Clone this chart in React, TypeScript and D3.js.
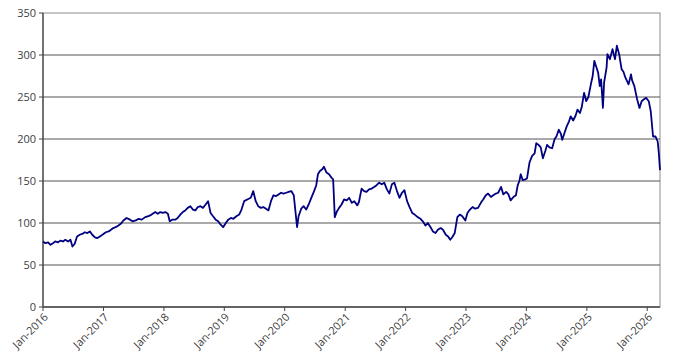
import * as d3 from 'd3'

// price series (date, value)
const dates = [
  '2016-01-01','2016-01-15','2016-02-01','2016-02-15','2016-03-01','2016-03-15','2016-04-01','2016-04-15','2016-05-01','2016-05-15','2016-06-01','2016-06-15','2016-06-27','2016-07-10','2016-07-25','2016-08-10','2016-08-25','2016-09-10','2016-09-25','2016-10-10','2016-10-25','2016-11-10','2016-11-25','2016-12-10','2016-12-25',
  '2017-01-15','2017-02-01','2017-02-15','2017-03-01','2017-03-15','2017-04-01','2017-04-15','2017-05-01','2017-05-20','2017-06-10','2017-06-25','2017-07-15','2017-08-01','2017-08-20','2017-09-10','2017-09-25','2017-10-10','2017-10-25','2017-11-10','2017-11-25','2017-12-10','2017-12-25',
  '2018-01-10','2018-01-25','2018-02-05','2018-02-20','2018-03-10','2018-03-25','2018-04-10','2018-04-25','2018-05-10','2018-05-25','2018-06-10','2018-06-25','2018-07-10','2018-07-25','2018-08-10','2018-08-25','2018-09-10','2018-09-25','2018-10-10','2018-10-25','2018-11-10','2018-11-25','2018-12-10','2018-12-25',
  '2019-01-10','2019-01-25','2019-02-10','2019-02-25','2019-03-15','2019-04-01','2019-04-15','2019-05-01','2019-05-20','2019-06-10','2019-06-25','2019-07-10','2019-07-25','2019-08-10','2019-08-25','2019-09-10','2019-09-25','2019-10-10','2019-10-25','2019-11-10','2019-11-25','2019-12-10','2019-12-25',
  '2020-01-10','2020-01-25','2020-02-10','2020-02-25','2020-03-05','2020-03-16','2020-03-25','2020-04-10','2020-04-25','2020-05-10','2020-05-25','2020-06-10','2020-06-25','2020-07-10','2020-07-20','2020-08-01','2020-08-15','2020-08-25','2020-09-10','2020-09-25','2020-10-10','2020-10-20','2020-10-30','2020-11-10','2020-11-25','2020-12-10','2020-12-25',
  '2021-01-10','2021-01-25','2021-02-10','2021-02-25','2021-03-15','2021-03-25','2021-04-10','2021-04-25','2021-05-10','2021-05-25','2021-06-10','2021-06-25','2021-07-10','2021-07-25','2021-08-10','2021-08-25','2021-09-10','2021-09-25','2021-10-10','2021-10-25','2021-11-10','2021-11-25','2021-12-10','2021-12-25',
  '2022-01-10','2022-01-25','2022-02-10','2022-02-25','2022-03-15','2022-04-01','2022-04-15','2022-05-01','2022-05-15','2022-06-01','2022-06-15','2022-07-01','2022-07-15','2022-08-01','2022-08-15','2022-09-01','2022-09-15','2022-09-28','2022-10-10','2022-10-25','2022-11-10','2022-11-25','2022-12-10','2022-12-28',
  '2023-01-10','2023-01-25','2023-02-10','2023-02-25','2023-03-15','2023-04-01','2023-04-15','2023-05-01','2023-05-15','2023-06-01','2023-06-15','2023-07-01','2023-07-15','2023-08-01','2023-08-15','2023-09-01','2023-09-15','2023-09-28','2023-10-15','2023-10-30','2023-11-10','2023-11-20','2023-11-28','2023-12-10','2023-12-25',
  '2024-01-05','2024-01-20','2024-02-05','2024-02-20','2024-03-01','2024-03-15','2024-03-28','2024-04-10','2024-04-25','2024-05-05','2024-05-20','2024-06-05','2024-06-20','2024-07-01','2024-07-15','2024-07-28','2024-08-05','2024-08-20','2024-09-01','2024-09-15','2024-09-25','2024-10-10','2024-10-25','2024-11-05','2024-11-20','2024-12-01','2024-12-15','2024-12-28',
  '2025-01-10','2025-01-25','2025-02-05','2025-02-15','2025-02-28','2025-03-10','2025-03-20','2025-03-28','2025-04-08','2025-04-15','2025-04-30','2025-05-05','2025-05-20','2025-06-05','2025-06-20','2025-07-01','2025-07-15','2025-07-30','2025-08-10','2025-08-22','2025-09-10','2025-09-25','2025-10-01','2025-10-15','2025-11-01','2025-11-15','2025-11-28','2025-12-10','2025-12-25',
  '2026-01-10','2026-01-22','2026-02-05','2026-02-20','2026-03-05','2026-03-12','2026-03-19',
]

const values = [
  78,76,77,74,76,78,77,79,78,80,78,80,72,75,84,86,87,89,88,90,86,83,82,84,86,
  89,90,92,94,95,97,99,103,106,104,102,103,105,104,107,108,109,111,113,111,113,112,
  113,111,102,104,104,106,110,113,115,118,120,116,115,119,120,118,122,126,112,108,104,102,98,95,
  100,104,106,105,108,110,116,126,128,130,138,126,120,118,119,117,115,126,133,132,134,136,135,
  136,137,138,133,116,95,108,117,120,116,122,130,137,145,158,162,164,167,160,158,154,152,107,113,118,122,128,
  127,130,124,126,121,125,141,138,137,140,141,143,145,148,146,148,140,135,146,148,138,130,136,139,
  126,119,112,110,107,105,102,97,100,95,90,88,92,94,92,86,84,80,83,88,107,110,108,103,
  112,116,119,117,118,124,128,133,135,131,133,135,136,143,134,137,134,127,131,133,145,150,158,151,152,
  153,172,180,183,195,193,190,177,186,193,190,189,200,203,211,206,199,208,215,221,227,222,228,235,231,238,255,245,
  250,265,275,293,285,279,263,271,237,267,285,301,295,307,295,311,301,283,280,273,265,277,270,263,247,237,245,247,249,
  245,233,203,203,197,183,163,
]

const yTicks = [0, 50, 100, 150, 200, 250, 300, 350]
const xTickLabels = ['Jan-2016','Jan-2017','Jan-2018','Jan-2019','Jan-2020','Jan-2021','Jan-2022','Jan-2023','Jan-2024','Jan-2025','Jan-2026']

const W = 673
const H = 359
const margin = { top: 13, right: 13, bottom: 52, left: 43 }

const parse = d3.timeParse('%Y-%m-%d')
const monthIdx: Record<string, number> = { Jan: 0 }

export default function App() {
  const data = dates.map((d, i) => ({ date: parse(d) as Date, value: values[i] }))

  const x = d3
    .scaleTime()
    .domain([new Date(2016, 0, 1), data[data.length - 1].date])
    .range([margin.left, W - margin.right])
  const y = d3
    .scaleLinear()
    .domain([0, 350])
    .range([H - margin.bottom, margin.top])

  const line = d3
    .line<{ date: Date; value: number }>()
    .x(d => x(d.date))
    .y(d => y(d.value))

  const font = '"Open Sans", "DejaVu Sans", sans-serif'
  const x0 = margin.left
  const x1 = W - margin.right
  const yb = H - margin.bottom

  return (
    <svg width={W} height={H} style={{ position: 'absolute', left: 0, top: 0, background: '#fff' }}>
      {/* plot frame */}
      <rect x={x0} y={margin.top} width={x1 - x0} height={yb - margin.top} fill="none" stroke="#a0a0a0" strokeWidth={1.2} />

      {/* gridlines + y labels */}
      {yTicks.map(t => (
        <g key={t}>
          {t > 0 && t < 350 && (
            <line x1={x0} x2={x1} y1={y(t)} y2={y(t)} stroke="#555" strokeWidth={1} />
          )}
          <line x1={x0 - 4} x2={x0} y1={y(t)} y2={y(t)} stroke="#444" strokeWidth={1} />
          <text x={x0 - 7} y={y(t)} dy="0.35em" textAnchor="end" fontSize={11} fill="#404040" fontFamily={font}>
            {t}
          </text>
        </g>
      ))}

      {/* axes */}
      <line x1={x0} x2={x0} y1={margin.top} y2={yb} stroke="#444" strokeWidth={1.3} />
      <line x1={x0} x2={x1} y1={yb} y2={yb} stroke="#444" strokeWidth={1.3} />

      {/* x ticks & rotated labels */}
      {xTickLabels.map(lbl => {
        const yr = +lbl.split('-')[1]
        const px = x(new Date(yr, monthIdx[lbl.split('-')[0]], 1))
        return (
          <g key={lbl}>
            <line x1={px} x2={px} y1={yb} y2={yb + 4} stroke="#444" strokeWidth={1} />
            <text
              transform={`translate(${px + 3},${yb + 8}) rotate(-45)`}
              textAnchor="end"
              dy="0.35em"
              fontSize={11}
              fill="#404040"
              fontFamily={font}
            >
              {lbl}
            </text>
          </g>
        )
      })}

      <path d={line(data) ?? ''} fill="none" stroke="#000080" strokeWidth={1.8} strokeLinejoin="round" />
    </svg>
  )
}
